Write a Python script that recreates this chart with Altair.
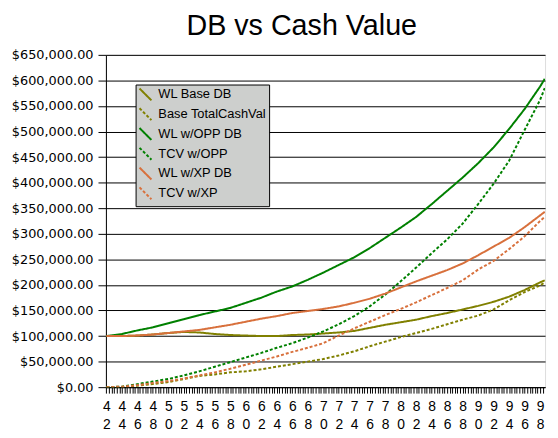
import altair as alt
import pandas as pd

# ages (x categories)
ages = [42, 44, 46, 48, 50, 52, 54, 56, 58, 60, 62, 64, 66, 68, 70,
        72, 74, 76, 78, 80, 82, 84, 86, 88, 90, 92, 94, 96, 98, 98.6]

# values in thousands of dollars
wl_base_db = [100, 100, 101, 103, 106, 108, 107, 104, 102, 101, 100, 100, 102, 103, 105,
              107, 110, 116, 122, 127, 132, 139, 145, 152, 159, 167, 177, 190, 205, 209]
base_tcv = [0, 0, 3, 6, 10, 16, 22, 25, 29, 31, 35, 40, 45, 50, 55,
            62, 70, 80, 89, 98, 106, 114, 123, 132, 140, 152, 170, 186, 199, 205]
wl_opp_db = [100, 104, 111, 117, 125, 133, 141, 148, 155, 165, 175, 187, 197, 210, 224,
             239, 254, 272, 292, 312, 333, 358, 384, 410, 438, 469, 505, 544, 588, 603]
tcv_opp = [0, 1, 6, 11, 16, 23, 31, 40, 49, 58, 67, 77, 86, 97, 109,
           123, 139, 158, 181, 207, 234, 262, 289, 320, 358, 398, 443, 503, 562, 585]
wl_xp_db = [100, 100, 101, 103, 106, 109, 112, 117, 122, 128, 134, 139, 145, 149, 153,
            158, 165, 173, 183, 195, 207, 218, 229, 242, 258, 275, 292, 313, 336, 343]
tcv_xp = [0, 1, 4, 8, 12, 17, 23, 29, 36, 44, 52, 60, 69, 77, 86,
          101, 115, 128, 141, 153, 166, 180, 194, 209, 230, 247, 270, 295, 325, 333]

series_names = ["WL Base DB", "Base TotalCashVal", "WL w/OPP DB",
                "TCV w/OPP", "WL w/XP DB", "TCV w/XP"]
series_values = [wl_base_db, base_tcv, wl_opp_db, tcv_opp, wl_xp_db, tcv_xp]
series_colors = ["#808000", "#808000", "#008000", "#008000", "#D8703C", "#D8703C"]
series_dashes = [[1, 0], [3, 2], [1, 0], [3, 2], [1, 0], [3, 2]]

y_ticks = list(range(0, 650001, 50000))
x_ticks = [42 + k / 3 for k in range(0, 171) if 42 + k / 3 <= 98.64]

rows = []
for i, (name, vals) in enumerate(zip(series_names, series_values)):
    for a, v in zip(ages, vals):
        rows.append({"age": a, "value": v * 1000, "series": name, "idx": i})
df = pd.DataFrame(rows)

FONT = "Liberation Sans"
PLOT_BG = "#CDCFCD"

legend = alt.Legend(
    orient="none", legendX=30, legendY=30, title=None,
    symbolType="M-1,-1L1,1", symbolSize=144, symbolStrokeWidth=2,
    labelFont=FONT, labelFontSize=13, labelColor="black",
    fillColor=PLOT_BG, strokeColor="black", padding=3,
    rowPadding=0, labelOffset=6, direction="vertical",
)

label_expr = (
    "(abs(datum.value - round(datum.value)) < 0.001 && round(datum.value) % 2 == 0)"
    " ? [substring(toString(round(datum.value)), 0, 1), substring(toString(round(datum.value)), 1, 2)]"
    " : ''"
)

chart = alt.Chart(df).mark_line(strokeWidth=2, clip=True).encode(
    x=alt.X("age:Q",
            scale=alt.Scale(domain=[41.94, 98.64], nice=False, zero=False),
            axis=alt.Axis(values=x_ticks, labelExpr=label_expr, title=None, grid=False,
                          tickSize=6, tickColor="black", domainColor="black",
                          labelOverlap=False, labelFont=FONT, labelFontSize=14,
                          labelColor="black", labelLineHeight=18, labelBaseline="top",
                          labelPadding=7, labelAngle=0, labelFlush=False,
                          labelBound=False)),
    y=alt.Y("value:Q",
            scale=alt.Scale(domain=[0, 650000], nice=False),
            axis=alt.Axis(values=y_ticks, format="$,.2f", title=None, grid=True,
                          gridColor="black", gridOpacity=1, gridWidth=1,
                          tickSize=8, tickColor="black", domainColor="black",
                          labelFont="DejaVu Sans", labelFontSize=13, labelColor="black",
                          labelPadding=5)),
    color=alt.Color("series:N", sort=series_names,
                    scale=alt.Scale(domain=series_names, range=series_colors),
                    legend=legend),
    strokeDash=alt.StrokeDash("series:N", sort=series_names,
                              scale=alt.Scale(domain=series_names, range=series_dashes),
                              legend=legend),
    order=alt.Order("age:Q"),
).properties(
    width=444, height=336,
    padding={"left": 99, "top": 45, "right": 5, "bottom": 48},
    autosize=alt.AutoSizeParams(type="none"),
    title=alt.Title("DB vs Cash Value", font=FONT, fontSize=29, fontWeight="normal",
                    color="black", anchor="middle", dx=-24, offset=8),
).configure_view(fill=PLOT_BG, strokeWidth=0).configure(background="white")

chart.save("out.html", embed_options={"renderer": "svg", "actions": False})
